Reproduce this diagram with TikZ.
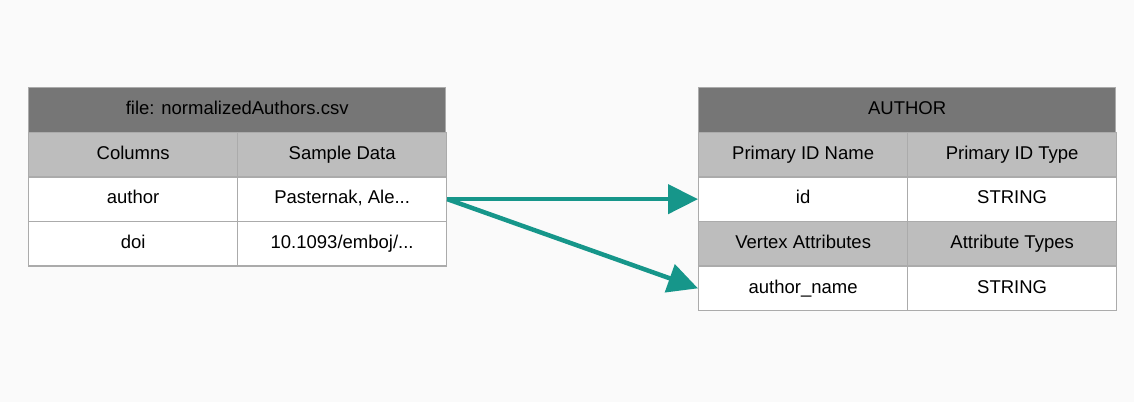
\documentclass[tikz,border=0pt]{standalone}
\usepackage{fontspec}
\setmainfont{Liberation Sans}
\usetikzlibrary{arrows.meta}
\definecolor{bg}{HTML}{FAFAFA}
\definecolor{hdark}{HTML}{767676}
\definecolor{hlight}{HTML}{BDBDBD}
\definecolor{bordc}{HTML}{ABABAB}
\definecolor{teal}{HTML}{16968A}
\tikzset{
  cell/.style={draw=bordc, line width=1.3pt, fill=white, minimum width=209pt, minimum height=44.6pt,
    anchor=north west, inner sep=0pt, text height=13.5pt, text depth=4pt,
    font=\fontsize{18.5}{21}\selectfont, text=black},
  subhead/.style={cell, fill=hlight},
  title/.style={cell, fill=hdark, minimum width=417pt},
  link/.style={draw=teal, line width=4.5pt, -{Triangle[length=30pt,width=29pt]}}
}
\begin{document}
\begin{tikzpicture}[x=1pt,y=-1pt]
\fill[bg] (0,0) rectangle (1134,402);
\useasboundingbox (0,0) rectangle (1134,402);
% left table
\node[title] (lt) at (28,87) {file: normalizedAuthors.csv};
\node[subhead] (lc1) at (28,131.6) {Columns};
\node[subhead] (lc2) at (237,131.6) {Sample Data};
\node[cell] (la1) at (28,176.2) {author};
\node[cell] (la2) at (237,176.2) {Pasternak, Ale...};
\node[cell] (ld1) at (28,220.8) {doi};
\node[cell] (ld2) at (237,220.8) {10.1093/emboj/...};
% right table
\node[title] (rt) at (698,87) {AUTHOR};
\node[subhead] (rh1) at (698,131.6) {Primary ID Name};
\node[subhead] (rh2) at (907,131.6) {Primary ID Type};
\node[cell] (ri1) at (698,176.2) {id};
\node[cell] (ri2) at (907,176.2) {STRING};
\node[subhead] (rv1) at (698,220.8) {Vertex Attributes};
\node[subhead] (rv2) at (907,220.8) {Attribute Types};
\node[cell] (rn1) at (698,265.4) {author\_name};
\node[cell] (rn2) at (907,265.4) {STRING};
% connectors
\draw[link] (la2.east) -- (ri1.west);
\draw[link] (la2.east) -- (rn1.west);
\end{tikzpicture}
\end{document}
